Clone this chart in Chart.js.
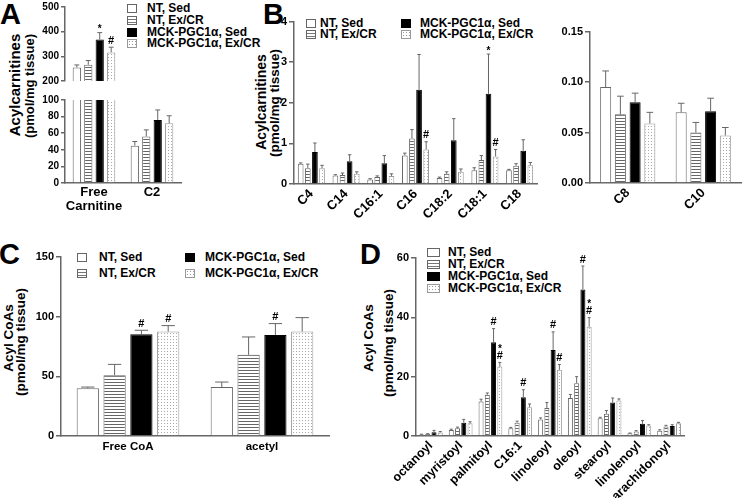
<!DOCTYPE html>
<html>
<head>
<meta charset="utf-8">
<script src="https://cdn.jsdelivr.net/npm/chart.js@4.4.1/dist/chart.umd.min.js"></script>
<style>
body { margin: 0; background: #fff; }
#fig { position: relative; width: 744px; height: 500px; overflow: hidden; font-family: "Liberation Sans", Arial, sans-serif; font-weight: bold; color: #000; }
#fig canvas { position: absolute; z-index: 2; }
.letter { position: absolute; font-size: 29px; line-height: 29px; font-weight: bold; }
.ytitle { position: absolute; z-index: 1; transform: translate(-50%, -50%) rotate(-90deg); white-space: nowrap; line-height: 1; }
.item { position: absolute; font-size: 12px; line-height: 12px; white-space: nowrap; }
.sw { position: absolute; top: 0; height: 9px; box-sizing: border-box; border: 1px solid #666; }
.s0 { background: #fff; }
.s1 { background: repeating-linear-gradient(to bottom, #fff 0 2px, #777 2px 3px); }
.s2 { background: #000; border-color: #000; }
.s3 { background-color: #fff; background-image: radial-gradient(#999 35%, transparent 45%); background-size: 3px 3px; border-color: #999; }
</style>
</head>
<body>
<div id="fig"></div>
<script>
const series = ['NT, Sed', 'NT, Ex/CR', 'MCK-PGC1\u03b1, Sed', 'MCK-PGC1\u03b1, Ex/CR'];

// A - acylcarnitines, broken axis
const aCats = [['Free', 'Carnitine'], 'C2'];
const aValues = [[255, 45], [266, 56], [368, 76], [316, 72]];
const aErrors = [[10, 5], [17, 8], [28, 12], [21, 9]];
const aMarks = [['', ''], ['', ''], ['*', ''], ['#', '']];
const aTopTicks = [200, 300, 400, 500];
const aLowTicks = [0, 20, 40, 60, 80, 100];

// B - long chain acylcarnitines
const bCats = ['C4', 'C14', 'C16:1', 'C16', 'C18:2', 'C18:1', 'C18'];
const bValues = [
	[0.50, 0.21, 0.11, 0.70, 0.15, 0.34, 0.34],
	[0.39, 0.22, 0.17, 1.12, 0.25, 0.59, 0.45],
	[0.79, 0.56, 0.51, 2.32, 1.08, 2.22, 0.82],
	[0.39, 0.25, 0.20, 0.85, 0.30, 0.68, 0.46],
];
const bErrors = [
	[0.02, 0.02, 0.02, 0.06, 0.02, 0.06, 0.02],
	[0.10, 0.05, 0.03, 0.22, 0.05, 0.11, 0.05],
	[0.22, 0.16, 0.19, 0.87, 0.53, 0.98, 0.27],
	[0.07, 0.05, 0.05, 0.19, 0.07, 0.17, 0.07],
];
const bMarks = [
	['', '', '', '', '', '', ''],
	['', '', '', '', '', '', ''],
	['', '', '', '', '', '*', ''],
	['', '', '', '#', '', '#', ''],
];
const bTicks = [0, 1, 2, 3, 4];

// B (right) - medium chain
const b2Cats = ['C8', 'C10'];
const b2Values = [[0.095, 0.070], [0.068, 0.050], [0.080, 0.071], [0.059, 0.047]];
const b2Errors = [[0.016, 0.009], [0.018, 0.010], [0.009, 0.013], [0.011, 0.008]];
const b2Ticks = [0, 0.05, 0.10, 0.15];

// C - free CoA and acetyl CoA
const cCats = ['Free CoA', 'acetyl'];
const cValues = [[40, 41], [51, 68], [85.3, 84.7], [87.5, 87.5]];
const cErrors = [[1, 4.2], [9, 15], [3.3, 9.5], [5, 11.7]];
const cMarks = [['', ''], ['', ''], ['#', '#'], ['#', '']];
const cTicks = [0, 50, 100, 150];

// D - acyl CoAs
const dCats = ['octanoyl', 'myristoyl', 'palmitoyl', 'C16:1', 'linoleoyl', 'oleoyl', 'stearoyl', 'linolenoyl', 'arachidonoyl'];
const dValues = [
	[0.5, 2.0, 11.6, 2.6, 5.6, 12.8, 6.0, 0.9, 1.8],
	[0.7, 2.6, 13.9, 4.5, 9.4, 17.8, 7.5, 1.5, 3.2],
	[1.3, 4.5, 31.6, 13.1, 29.0, 49.4, 11.3, 4.1, 3.4],
	[1.2, 4.3, 23.4, 9.7, 22.3, 36.8, 12.0, 3.5, 4.3],
];
const dErrors = [
	[0.1, 0.3, 0.8, 0.3, 0.5, 1.2, 0.3, 0.1, 0.3],
	[0.1, 0.4, 0.6, 0.5, 1.9, 2.2, 1.1, 0.3, 0.4],
	[0.6, 1.1, 4.6, 2.5, 6.1, 7.9, 1.5, 1.1, 0.4],
	[0.3, 0.5, 1.4, 1.1, 1.8, 3.1, 0.5, 0.3, 0.3],
];
const dMarks = [
	['', '', '', '', '', '', '', '', ''],
	['', '', '', '', '', '', '', '', ''],
	['', '', '#', '#', '#', '#', '', '', ''],
	['', '', '*#', '', '#', '*#', '', '', ''],
];
const dTicks = [0, 20, 40, 60];

const FONT = '"Liberation Sans", Arial, sans-serif';
const fig = document.getElementById('fig');

// fill patterns
function makeTile(w, h, draw) {
	const c = document.createElement('canvas');
	c.width = w; c.height = h;
	const x = c.getContext('2d');
	x.fillStyle = '#fff';
	x.fillRect(0, 0, w, h);
	draw(x);
	return x.createPattern(c, 'repeat');
}
const stripes = makeTile(4, 3, (x) => { x.fillStyle = '#666'; x.fillRect(0, 2, 4, 1); });
const dots = makeTile(3, 3, (x) => { x.fillStyle = '#aaa'; x.fillRect(1, 1, 1, 1); });
const fills = ['#fff', stripes, '#000', dots];
const borders = ['#666', '#666', '#000', '#999'];

// error bars (upper only) + significance marks
const errorBars = {
	id: 'errorBars',
	afterDatasetsDraw(chart) {
		const ctx = chart.ctx;
		const y = chart.scales.y;
		ctx.save();
		chart.data.datasets.forEach((ds, i) => {
			const meta = chart.getDatasetMeta(i);
			meta.data.forEach((bar, j) => {
				const v = ds.data[j];
				const e = ds.err ? ds.err[j] : null;
				if (e == null || v > y.max || v < y.min) return;
				const yv = y.getPixelForValue(v);
				const yt = y.getPixelForValue(v + e);
				const half = bar.width * 0.3;
				ctx.strokeStyle = '#666';
				ctx.lineWidth = 1;
				ctx.beginPath();
				ctx.moveTo(bar.x, yv);
				ctx.lineTo(bar.x, yt);
				ctx.moveTo(bar.x - half, yt);
				ctx.lineTo(bar.x + half, yt);
				ctx.stroke();
				const m = ds.marks ? ds.marks[j] : '';
				if (m) {
					ctx.fillStyle = '#000';
					ctx.textAlign = 'center';
					ctx.textBaseline = 'bottom';
					let yy = yt - 1;
					m.split('').reverse().forEach((ch) => {
						ctx.font = (ch === '*' ? 'bold 10px ' : 'bold 11px ') + FONT;
						ctx.fillText(ch, bar.x, ch === '*' ? yy + 3 : yy);
						yy -= ch === '*' ? 7 : 10;
					});
				}
			});
		});
		ctx.restore();
	},
};

function barChart(b) {
	const canvas = document.createElement('canvas');
	const showX = b.xH > 0;
	canvas.width = b.yW + b.plotW + b.padRight;
	canvas.height = b.padTop + b.plotH + (showX ? b.xH : b.padBottom);
	canvas.style.left = (b.axisX - b.yW) + 'px';
	canvas.style.top = (b.plotTop - b.padTop) + 'px';
	fig.appendChild(canvas);
	const datasets = b.values.map((vals, i) => ({
		label: series[i],
		data: vals,
		err: b.errors ? b.errors[i] : null,
		marks: b.marks ? b.marks[i] : null,
		backgroundColor: fills[i],
		borderColor: borders[i],
		borderWidth: 1,
		categoryPercentage: b.cp,
		barPercentage: b.bp,
	}));
	return new Chart(canvas.getContext('2d'), {
		type: 'bar',
		data: { labels: b.cats, datasets: datasets },
		plugins: [errorBars],
		options: {
			responsive: false,
			animation: false,
			events: [],
			layout: {
				autoPadding: false,
				padding: { top: b.padTop, right: b.padRight, left: 0, bottom: showX ? 0 : b.padBottom },
			},
			plugins: { legend: { display: false }, tooltip: { enabled: false } },
			scales: {
				x: {
					display: showX,
					grid: { display: false, drawTicks: false },
					border: { display: true, color: '#666', width: 1.5 },
					ticks: {
						autoSkip: false,
						color: '#000',
						padding: b.xPad || 3,
						font: { family: FONT, size: b.xFont || 12, weight: 'bold', lineHeight: 1.05 },
						minRotation: b.rot || 0,
						maxRotation: b.rot || 0,
					},
					afterFit(s) { s.height = b.xH; },
				},
				y: {
					min: b.ticks[0],
					max: b.ticks[b.ticks.length - 1],
					afterBuildTicks(s) { s.ticks = b.ticks.map((v) => ({ value: v })); },
					grid: { drawOnChartArea: false, tickLength: b.tickLen || 5, color: '#666', lineWidth: 1.5 },
					border: { display: true, color: '#666', width: 1.5 },
					ticks: {
						autoSkip: false,
						color: '#000',
						padding: 2,
						font: { family: FONT, size: b.yFont || 11, weight: 'bold' },
						callback: b.fmt || ((v) => v),
					},
					afterFit(s) { s.width = b.yW; },
				},
			},
		},
	});
}

// Panel A: top part (200-500) and bottom part (0-100)
barChart({ cats: aCats, values: aValues, errors: [[aErrors[0][0], null], [aErrors[1][0], null], [aErrors[2][0], null], [aErrors[3][0], null]],
	marks: aMarks, ticks: aTopTicks, axisX: 65, plotTop: 5, plotW: 116, plotH: 81, yW: 24,
	padTop: 6, padRight: 2, padBottom: 3, xH: 0, cp: 0.79, bp: 0.72, tickLen: 4, yFont: 10 });
barChart({ cats: aCats, values: aValues, errors: [[null, aErrors[0][1]], [null, aErrors[1][1]], [null, aErrors[2][1]], [null, aErrors[3][1]]],
	ticks: aLowTicks, axisX: 65, plotTop: 99, plotW: 116, plotH: 84, yW: 24,
	padTop: 7, padRight: 8, xH: 32, xFont: 13, xPad: 3, cp: 0.79, bp: 0.72, tickLen: 4, yFont: 10 });

// Panel B
barChart({ cats: bCats, values: bValues, errors: bErrors, marks: bMarks, ticks: bTicks,
	axisX: 294, plotTop: 21, plotW: 243, plotH: 163, yW: 30, padTop: 8, padRight: 3, xH: 40,
	rot: 45, xPad: 3, xFont: 13, cp: 0.82, bp: 0.8 });
barChart({ cats: b2Cats, values: b2Values, errors: b2Errors, ticks: b2Ticks, fmt: (v) => v.toFixed(2),
	axisX: 590, plotTop: 31, plotW: 151, plotH: 152, yW: 36, padTop: 8, padRight: 3, xH: 40,
	rot: 45, xPad: 3, xFont: 13, cp: 0.78, bp: 0.75 });

// Panel C
barChart({ cats: cCats, values: cValues, errors: cErrors, marks: cMarks, ticks: cTicks,
	axisX: 61, plotTop: 257, plotW: 268, plotH: 179, yW: 30, padTop: 9, padRight: 3, xH: 25,
	xPad: 5, xFont: 11.5, cp: 0.8, bp: 0.83 });

// Panel D
barChart({ cats: dCats, values: dValues, errors: dErrors, marks: dMarks, ticks: dTicks,
	axisX: 416, plotTop: 258, plotW: 268, plotH: 178, yW: 26, padTop: 9, padRight: 3, xH: 62,
	rot: 45, xPad: 3, xFont: 12.5, cp: 0.84, bp: 0.8 });

// panel letters
[['A', 0, 0], ['B', 263, 0], ['C', -1, 240], ['D', 360, 240]].forEach(([t, x, y]) => {
	const d = document.createElement('div');
	d.className = 'letter';
	d.textContent = t;
	d.style.left = x + 'px';
	d.style.top = y + 'px';
	fig.appendChild(d);
});

// y axis titles
[
	['Acylcarnitines', 14, 85, 15],
	['(pmol/mg tissue)', 29, 86, 13],
	['Acylcarnitines', 261, 102, 14],
	['(pmol/mg tissue)', 275, 103, 13.5],
	['Acyl CoAs', 8.5, 338, 13.5],
	['(pmol/mg tissue)', 20.5, 342, 13.5],
	['Acyl CoAs', 369, 338, 13.5],
	['(pmol/mg tissue)', 389, 343, 13.5],
].forEach(([t, cx, cy, fs]) => {
	const d = document.createElement('div');
	d.className = 'ytitle';
	d.textContent = t;
	d.style.left = cx + 'px';
	d.style.top = cy + 'px';
	d.style.fontSize = fs + 'px';
	fig.appendChild(d);
});

// legends: [series, swatch x, text x, cap top y, swatch width]
const legendRows = [
	[0, 127, 147, 4, 10], [1, 127, 147, 15.5, 10], [2, 127, 147, 27.5, 10], [3, 127, 147, 38.5, 10],
	[0, 306, 320, 18.5, 10], [1, 306, 320, 29.5, 10], [2, 401, 420, 18.5, 10], [3, 401, 420, 29.5, 10],
	[0, 77, 99, 253, 10], [1, 77, 99, 269, 10], [2, 185, 205, 253, 10], [3, 185, 205, 269, 10],
	[0, 427, 448, 247.5, 13], [1, 427, 448, 259.5, 13], [2, 427, 448, 271.5, 13], [3, 427, 448, 283.5, 13],
];
legendRows.forEach(([s, sx, tx, y, w]) => {
	const d = document.createElement('div');
	d.className = 'item';
	d.style.left = sx + 'px';
	d.style.top = (y - 2) + 'px';
	const sw = document.createElement('span');
	sw.className = 'sw s' + s;
	sw.style.width = w + 'px';
	sw.style.top = '2px';
	const t = document.createElement('span');
	t.style.position = 'absolute';
	t.style.left = (tx - sx) + 'px';
	t.textContent = series[s];
	d.appendChild(sw);
	d.appendChild(t);
	fig.appendChild(d);
});
</script>
</body>
</html>
